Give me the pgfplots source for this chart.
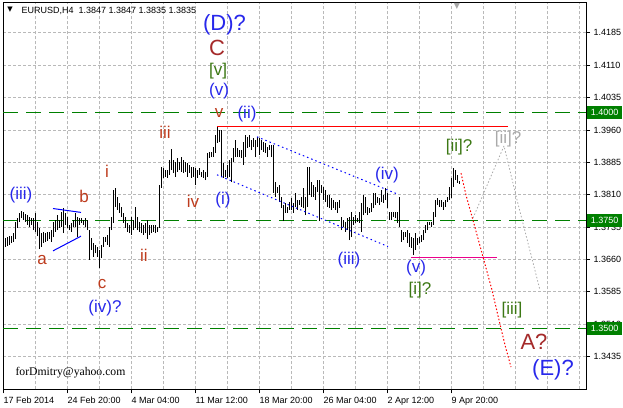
\documentclass[border=0pt]{standalone}
\usepackage{pgfplots}
\pgfplotsset{compat=1.18}
\usepackage{pgfplotstable}
\usepackage{fontspec}
\setmainfont{Liberation Sans}
\newfontfamily\emailfont{Liberation Serif}
\newfontfamily\symfont{DejaVu Sans}
\definecolor{wred}{RGB}{190,60,30}
\definecolor{wbrown}{RGB}{165,42,42}
\definecolor{wblue}{RGB}{40,40,235}
\definecolor{wgreen}{RGB}{60,120,20}
\definecolor{wgray}{RGB}{170,170,170}
\definecolor{lvl}{RGB}{0,128,0}
\definecolor{gridc}{RGB}{185,185,185}

% H4 bars: x position, low, high
\pgfplotstableread{
x lo hi
5 1.3689 1.3710
7 1.3691 1.3712
9 1.3694 1.3714
11 1.3698 1.3714
13 1.3701 1.3721
15 1.3707 1.3747
17 1.3733 1.3756
19 1.3747 1.3768
21 1.3756 1.3772
23 1.3751 1.3770
25 1.3747 1.3765
27 1.3740 1.3763
29 1.3735 1.3758
31 1.3740 1.3756
33 1.3728 1.3756
35 1.3724 1.3768
37 1.3714 1.3747
39 1.3684 1.3733
41 1.3689 1.3721
43 1.3698 1.3724
45 1.3701 1.3721
47 1.3703 1.3724
49 1.3707 1.3724
51 1.3701 1.3728
53 1.3712 1.3747
55 1.3724 1.3751
57 1.3728 1.3763
59 1.3733 1.3751
61 1.3735 1.3770
63 1.3721 1.3779
65 1.3740 1.3768
67 1.3733 1.3758
69 1.3728 1.3740
71 1.3724 1.3745
73 1.3735 1.3751
75 1.3735 1.3768
77 1.3712 1.3758
79 1.3740 1.3756
81 1.3745 1.3756
83 1.3740 1.3751
85 1.3735 1.3756
87 1.3728 1.3751
89 1.3659 1.3728
91 1.3682 1.3710
93 1.3666 1.3698
95 1.3675 1.3694
97 1.3666 1.3689
99 1.3640 1.3682
101 1.3663 1.3694
103 1.3689 1.3712
105 1.3701 1.3712
107 1.3694 1.3717
109 1.3689 1.3735
111 1.3728 1.3758
113 1.3745 1.3821
115 1.3782 1.3826
117 1.3775 1.3805
119 1.3768 1.3791
121 1.3758 1.3782
123 1.3745 1.3768
125 1.3733 1.3758
127 1.3724 1.3745
129 1.3721 1.3740
131 1.3717 1.3758
133 1.3728 1.3751
135 1.3733 1.3782
137 1.3728 1.3758
139 1.3724 1.3747
141 1.3721 1.3745
143 1.3717 1.3740
145 1.3721 1.3745
147 1.3707 1.3751
149 1.3717 1.3740
151 1.3721 1.3740
153 1.3724 1.3740
155 1.3721 1.3740
157 1.3724 1.3735
159 1.3733 1.3832
161 1.3826 1.3874
163 1.3849 1.3872
165 1.3851 1.3867
167 1.3849 1.3867
169 1.3856 1.3890
171 1.3867 1.3916
173 1.3860 1.3890
175 1.3851 1.3886
177 1.3863 1.3895
179 1.3867 1.3886
181 1.3863 1.3897
183 1.3860 1.3890
185 1.3863 1.3886
187 1.3851 1.3883
189 1.3860 1.3879
191 1.3849 1.3874
193 1.3851 1.3874
195 1.3832 1.3872
197 1.3849 1.3867
199 1.3856 1.3872
201 1.3851 1.3863
203 1.3849 1.3867
205 1.3844 1.3863
207 1.3851 1.3907
209 1.3895 1.3909
211 1.3897 1.3909
213 1.3897 1.3920
215 1.3907 1.3948
217 1.3930 1.3967
219 1.3932 1.3960
221 1.3851 1.3960
223 1.3849 1.3883
225 1.3851 1.3867
227 1.3849 1.3879
229 1.3851 1.3890
231 1.3839 1.3895
233 1.3886 1.3918
235 1.3897 1.3937
237 1.3897 1.3918
239 1.3897 1.3913
241 1.3895 1.3913
243 1.3879 1.3932
245 1.3897 1.3948
247 1.3918 1.3944
249 1.3920 1.3948
251 1.3913 1.3937
253 1.3920 1.3941
255 1.3897 1.3937
257 1.3920 1.3944
259 1.3902 1.3941
261 1.3913 1.3937
263 1.3909 1.3932
265 1.3907 1.3930
267 1.3897 1.3920
269 1.3913 1.3925
271 1.3897 1.3925
273 1.3814 1.3925
275 1.3805 1.3839
277 1.3814 1.3828
279 1.3793 1.3832
281 1.3779 1.3805
283 1.3749 1.3786
285 1.3768 1.3791
287 1.3768 1.3782
289 1.3775 1.3793
291 1.3775 1.3802
293 1.3768 1.3791
295 1.3782 1.3814
297 1.3775 1.3798
299 1.3786 1.3798
301 1.3782 1.3805
303 1.3779 1.3826
305 1.3763 1.3805
307 1.3782 1.3874
309 1.3809 1.3874
311 1.3805 1.3839
313 1.3805 1.3832
315 1.3798 1.3828
317 1.3816 1.3844
319 1.3749 1.3844
321 1.3814 1.3832
323 1.3798 1.3828
325 1.3793 1.3821
327 1.3782 1.3809
329 1.3779 1.3809
331 1.3775 1.3802
333 1.3779 1.3798
335 1.3775 1.3793
337 1.3768 1.3793
339 1.3779 1.3798
341 1.3728 1.3758
343 1.3735 1.3751
345 1.3724 1.3747
347 1.3728 1.3756
349 1.3705 1.3758
351 1.3712 1.3770
353 1.3740 1.3758
355 1.3745 1.3763
357 1.3747 1.3756
359 1.3745 1.3770
361 1.3724 1.3791
363 1.3763 1.3809
365 1.3768 1.3805
367 1.3763 1.3782
369 1.3768 1.3779
371 1.3770 1.3791
373 1.3779 1.3814
375 1.3786 1.3814
377 1.3791 1.3805
379 1.3786 1.3802
381 1.3793 1.3821
383 1.3791 1.3809
385 1.3798 1.3826
387 1.3779 1.3814
389 1.3751 1.3770
391 1.3751 1.3770
393 1.3758 1.3770
395 1.3756 1.3770
397 1.3745 1.3770
399 1.3735 1.3805
401 1.3701 1.3728
403 1.3705 1.3724
405 1.3712 1.3724
407 1.3698 1.3728
409 1.3689 1.3721
411 1.3687 1.3712
413 1.3670 1.3710
415 1.3682 1.3721
417 1.3694 1.3710
419 1.3698 1.3712
421 1.3701 1.3717
423 1.3705 1.3728
425 1.3721 1.3740
427 1.3728 1.3747
429 1.3740 1.3747
431 1.3735 1.3747
433 1.3740 1.3770
435 1.3758 1.3798
437 1.3786 1.3802
439 1.3782 1.3798
441 1.3782 1.3798
443 1.3775 1.3793
445 1.3782 1.3798
447 1.3793 1.3805
449 1.3798 1.3828
451 1.3802 1.3849
453 1.3828 1.3872
455 1.3844 1.3867
457 1.3837 1.3856
459 1.3835 1.3842
}\bars

\begin{document}
\begin{tikzpicture}[
  big/.style={font=\fontsize{22}{24}\selectfont},
  med/.style={font=\fontsize{17}{19}\selectfont}]
\useasboundingbox (0,0) rectangle (623pt,407pt);
\fill[white] (0,0) rectangle (623pt,407pt);
\begin{axis}[
  at={(3pt,17.7pt)}, anchor=south west,
  scale only axis, width=583pt, height=386.6pt,
  xmin=3, xmax=586, ymin=1.33595, ymax=1.42545,
  axis line style={black, line width=0.8pt},
  tick align=outside, major tick length=4pt,
  tick style={black, line width=0.8pt},
  xtick pos=left, ytick pos=right,
  xtick={3,67,131,195,259,323,387,451},
  xticklabels={17 Feb 2014,24 Feb 20:00,4 Mar 04:00,11 Mar 12:00,18 Mar 20:00,26 Mar 04:00,2 Apr 12:00,9 Apr 20:00},
  xticklabel style={anchor=north west, font=\fontsize{9}{10}\selectfont, xshift=-3pt},
  extra x ticks={35,99,163,227,291,355,419,483,515,547,579},
  extra x tick labels={},
  extra x tick style={grid=major, major tick length=0pt,
     major grid style={gridc, dash pattern=on 3pt off 2pt, line width=0.8pt}},
  ytick={1.3435,1.3510,1.3585,1.3660,1.3735,1.3810,1.3885,1.3960,1.4035,1.4110,1.4185},
  yticklabels={1.3435,1.3510,1.3585,1.3660,1.3735,1.3810,1.3885,1.3960,1.4035,1.4110,1.4185},
  yticklabel pos=right,
  yticklabel style={anchor=west, font=\fontsize{9}{10}\selectfont},
  grid=major,
  major grid style={gridc, dash pattern=on 3pt off 2pt, line width=0.8pt},
]
% support / resistance levels
\addplot[lvl, line width=1pt, dash pattern=on 15pt off 8pt] coordinates {(3,1.4000) (586,1.4000)};
\addplot[lvl, line width=1pt, dash pattern=on 15pt off 8pt] coordinates {(3,1.3750) (586,1.3750)};
\addplot[lvl, line width=1pt, dash pattern=on 15pt off 8pt] coordinates {(3,1.3500) (586,1.3500)};
\coordinate (L1) at (axis cs:586,1.4000);
\coordinate (L2) at (axis cs:586,1.3750);
\coordinate (L3) at (axis cs:586,1.3500);
% price bars (high-low)
\addplot[draw=none, mark=none, error bars/.cd, y dir=plus, y explicit, error mark=none,
   error bar style={draw=black, line width=0.95pt, solid}]
   table[x=x, y=lo, y error plus expr=\thisrow{hi}-\thisrow{lo}] {\bars};
% horizontal lines
\addplot[red, line width=1pt] coordinates {(217,1.3967) (508,1.3967)};
\addplot[magenta, line width=1pt] coordinates {(411,1.3665) (497,1.3665)};
% triangle b
\addplot[blue, line width=1pt] coordinates {(53,1.3778) (81,1.3769)};
\addplot[blue, line width=1pt] coordinates {(53,1.3680) (81,1.3714)};
% channel
\addplot[blue, line width=1pt, dash pattern=on 1.5pt off 3pt] coordinates {(257,1.3944) (397,1.3812)};
\addplot[blue, line width=1pt, dash pattern=on 1.5pt off 3pt] coordinates {(217,1.3856) (388,1.3690)};
% projections
\addplot[red, line width=1pt, dash pattern=on 1.5pt off 2pt] coordinates {(461,1.3860) (466,1.3809) (473,1.3751) (483,1.3666) (492,1.3589) (499,1.3520) (505,1.3462) (511,1.3411)};
\addplot[wgray, line width=0.8pt, dash pattern=on 1.5pt off 2pt] coordinates {(473,1.3756) (504,1.3923) (517,1.3798) (540,1.3589)};
% wave labels
\node[wblue, big] at (axis cs:224.5,1.4203) {(D)?};
\node[wbrown, big] at (axis cs:217,1.4150) {C};
\node[wgreen, med] at (axis cs:218,1.4096) {[v]};
\node[wblue, med] at (axis cs:219,1.4050) {(v)};
\node[wred, med] at (axis cs:219,1.3999) {v};
\node[wblue, med] at (axis cs:247,1.3997) {(ii)};
\node[wred, med] at (axis cs:165,1.3955) {iii};
\node[wred, med] at (axis cs:107,1.3865) {i};
\node[wblue, med] at (axis cs:21,1.3809) {(iii)};
\node[wred, med] at (axis cs:84,1.3805) {b};
\node[wred, med] at (axis cs:193,1.3795) {iv};
\node[wblue, med] at (axis cs:223,1.3798) {(i)};
\node[wred, med] at (axis cs:42,1.3659) {a};
\node[wred, med] at (axis cs:144,1.3670) {ii};
\node[wred, med] at (axis cs:102,1.3603) {c};
\node[wblue, med] at (axis cs:105,1.3548) {(iv)?};
\node[wblue, med] at (axis cs:349,1.3659) {(iii)};
\node[wblue, med] at (axis cs:387,1.3856) {(iv)};
\node[wblue, med] at (axis cs:416,1.3640) {(v)};
\node[wgreen, med] at (axis cs:420,1.3589) {[i]?};
\node[wgreen, med] at (axis cs:459,1.3920) {[ii]?};
\node[wgray, med] at (axis cs:508,1.3939) {[ii]?};
\node[wgreen, med] at (axis cs:512,1.3543) {[iii]};
\node[wbrown, big] at (axis cs:534,1.3469) {A?};
\node[wblue, big] at (axis cs:553,1.3404) {(E)?};
\node[anchor=west, font=\emailfont\fontsize{11.7}{13}\selectfont] at (axis cs:12,1.3397) {forDmitry@yahoo.com};
\end{axis}
% level price boxes
\foreach \c/\t in {L1/1.4000, L2/1.3750, L3/1.3500}
  \node[fill=lvl, text=white, anchor=west, minimum width=35pt, minimum height=13pt, inner sep=0pt,
        font=\fontsize{9}{10}\selectfont] at ([xshift=1pt]\c) {\t};
% title
\node[anchor=base west, font=\fontsize{9}{10}\selectfont] at (18pt,393pt) {EURUSD,H4\ \ 1.3847 1.3847 1.3835 1.3835};
\node[font=\symfont\fontsize{7}{8}\selectfont] at (10pt,397pt) {▼};
\node[text=gray!70, font=\symfont\fontsize{8}{8}\selectfont] at (457pt,401pt) {▼};
\end{tikzpicture}
\end{document}
